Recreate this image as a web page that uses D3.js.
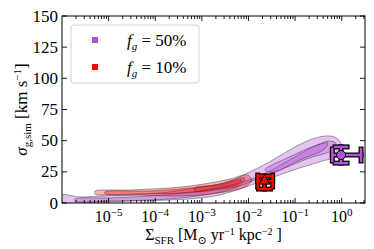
<!DOCTYPE html>
<html>
<head>
<meta charset="utf-8">
<script src="https://cdn.jsdelivr.net/npm/d3@7"></script>
<style>
  body { margin: 0; background: #fff; }
</style>
</head>
<body>
<div id="viz"></div>
<script>
'use strict';

// x tick exponents and y ticks
const xTickExps = [-5, -4, -3, -2, -1, 0];
const yTicks = [0, 25, 50, 75, 100, 125, 150];

// contour levels, points are [log10 SigmaSFR, sigma]
const purpleLevels = [
  [[-6.0, 6.4], [-5.61, 4.8], [-5.19, 5.6], [-4.54, 6.4], [-3.9, 8.0], [-3.26, 11.2], [-2.83, 13.6],
   [-2.4, 17.6], [-1.97, 24.9], [-1.55, 32.9], [-1.12, 42.5], [-0.69, 50.5], [-0.37, 53.7],
   [-0.15, 52.9], [-0.03, 48.9], [0.0, 42.5], [-0.09, 37.7], [-0.48, 32.9], [-0.9, 28.1],
   [-1.33, 22.5], [-1.76, 16.8], [-2.19, 11.2], [-2.62, 6.4], [-3.04, 4.0], [-3.69, 2.4],
   [-4.54, 1.6], [-5.19, 0.8], [-6.0, 0.8]],
  [[-5.72, 3.2], [-4.97, 4.0], [-4.12, 5.6], [-3.26, 8.8], [-2.4, 14.4], [-1.76, 21.7],
   [-1.12, 34.5], [-0.58, 45.7], [-0.26, 49.7], [-0.13, 48.1], [-0.2, 42.5], [-0.69, 36.1],
   [-1.23, 28.1], [-1.87, 18.4], [-2.51, 9.6], [-3.26, 4.8], [-4.12, 2.4], [-4.97, 1.6], [-5.72, 1.6]],
  [[-1.65, 26.5], [-1.12, 36.9], [-0.58, 45.7], [-0.3, 48.1], [-0.37, 43.3], [-0.9, 34.5], [-1.44, 24.9]]
];

const redLevels = [
  [[-5.29, 9.6], [-4.97, 10.4], [-4.54, 10.4], [-4.12, 11.2], [-3.69, 12.0], [-3.26, 13.6],
   [-2.83, 16.0], [-2.4, 19.2], [-2.02, 22.5], [-1.93, 18.4], [-2.08, 12.8], [-2.51, 8.8],
   [-3.04, 6.4], [-3.69, 5.6], [-4.33, 6.4], [-4.97, 6.4], [-5.29, 7.2]],
  [[-5.08, 8.8], [-4.12, 9.6], [-3.26, 12.0], [-2.62, 15.2], [-2.08, 20.0], [-2.19, 14.4],
   [-2.72, 10.4], [-3.37, 8.0], [-4.12, 7.6], [-5.08, 7.6]],
  [[-3.15, 12.0], [-2.62, 14.4], [-2.15, 18.4], [-2.23, 15.2], [-2.72, 11.2], [-3.15, 9.6]]
];

// observed points: value, x error range, y error range
const purplePoint = {x: 0.97, y: 38.5, xlo: 0.63, xhi: 2.6, ylo: 32, yhi: 45};
const redPoint = {x: 0.022, y: 17.6, xlo: 0.0158, xhi: 0.033, ylo: 11.2, yhi: 21.7};

const legendItems = ['50%', '10%'];

const purple = '#b452d6';
const red = '#ff0000';
const serif = "'Liberation Serif', 'DejaVu Serif', serif";

const W = 374, H = 249;
const margin = {top: 16, right: 9, bottom: 46, left: 62};

const svg = d3.select('#viz').append('svg')
  .attr('width', W).attr('height', H)
  .attr('font-family', serif)
  .style('font-family', serif);

const x = d3.scaleLog()
  .domain([1e-6, Math.pow(10, 0.5)])
  .range([margin.left, W - margin.right]);

const y = d3.scaleLinear()
  .domain([0, 150])
  .range([H - margin.bottom, margin.top]);

const defs = svg.append('defs');
defs.append('clipPath').attr('id', 'clip')
  .append('rect')
  .attr('x', x.range()[0]).attr('y', y.range()[1])
  .attr('width', x.range()[1] - x.range()[0])
  .attr('height', y.range()[0] - y.range()[1]);

const contourLine = d3.line()
  .x(p => x(Math.pow(10, p[0])))
  .y(p => y(p[1]))
  .curve(d3.curveCatmullRomClosed.alpha(0.5));

const plot = svg.append('g').attr('clip-path', 'url(#clip)');

function drawLevels(levels, color, alpha) {
  levels.forEach(poly => {
    plot.append('path')
      .datum(poly)
      .attr('d', contourLine)
      .attr('fill', color)
      .attr('fill-opacity', alpha)
      .attr('stroke', '#333')
      .attr('stroke-opacity', 0.45)
      .attr('stroke-width', 1);
  });
}

drawLevels(purpleLevels, purple, 0.35);
drawLevels(redLevels, red, 0.3);

// error bars with black outline
function errorBar(pt, color, marker) {
  const g = svg.append('g');
  const cap = 6;
  const cx = x(pt.x), cy = y(pt.y);
  const segs = [
    [x(pt.xlo), cy, x(pt.xhi), cy],
    [cx, y(pt.ylo), cx, y(pt.yhi)],
    [x(pt.xlo), cy - cap, x(pt.xlo), cy + cap],
    [x(pt.xhi), cy - cap, x(pt.xhi), cy + cap],
    [cx - cap, y(pt.ylo), cx + cap, y(pt.ylo)],
    [cx - cap, y(pt.yhi), cx + cap, y(pt.yhi)]
  ];
  [['#000', 5], [color, 2.5]].forEach(([c, w]) => {
    g.selectAll(null).data(segs).enter().append('line')
      .attr('x1', d => d[0]).attr('y1', d => d[1])
      .attr('x2', d => d[2]).attr('y2', d => d[3])
      .attr('stroke', c).attr('stroke-width', w)
      .attr('stroke-linecap', 'square');
  });
  if (marker === 'circle') {
    g.append('circle').attr('cx', cx).attr('cy', cy).attr('r', 4.5)
      .attr('fill', color).attr('stroke', '#000').attr('stroke-width', 1);
  } else {
    g.append('path')
      .attr('d', d3.symbol(d3.symbolTriangle, 50)())
      .attr('transform', `translate(${cx},${cy})`)
      .attr('fill', color).attr('stroke', '#000').attr('stroke-width', 1);
  }
}

errorBar(redPoint, red, 'triangle');
errorBar(purplePoint, purple, 'circle');

// frame
const x0 = x.range()[0], x1 = x.range()[1], y0 = y.range()[0], y1 = y.range()[1];
svg.append('rect')
  .attr('x', x0).attr('y', y1).attr('width', x1 - x0).attr('height', y0 - y1)
  .attr('fill', 'none').attr('stroke', '#000').attr('stroke-width', 1);

// x ticks (inward, top and bottom)
const minor = [];
for (let e = -6; e <= 0; e++) {
  for (let k = 2; k <= 9; k++) {
    const v = k * Math.pow(10, e);
    if (v < x.domain()[1]) minor.push(v);
  }
}
const ticks = svg.append('g').attr('stroke', '#000').attr('stroke-width', 0.9);
xTickExps.forEach(e => {
  const px = x(Math.pow(10, e));
  ticks.append('line').attr('x1', px).attr('x2', px).attr('y1', y0).attr('y2', y0 - 5);
  ticks.append('line').attr('x1', px).attr('x2', px).attr('y1', y1).attr('y2', y1 + 5);
});
minor.forEach(v => {
  const px = x(v);
  ticks.append('line').attr('x1', px).attr('x2', px).attr('y1', y0).attr('y2', y0 - 3);
  ticks.append('line').attr('x1', px).attr('x2', px).attr('y1', y1).attr('y2', y1 + 3);
});
yTicks.forEach(v => {
  const py = y(v);
  ticks.append('line').attr('x1', x0).attr('x2', x0 + 5).attr('y1', py).attr('y2', py);
  ticks.append('line').attr('x1', x1).attr('x2', x1 - 5).attr('y1', py).attr('y2', py);
});

// tick labels
yTicks.forEach(v => {
  svg.append('text')
    .attr('x', x0 - 4).attr('y', y(v) + 5.5)
    .attr('text-anchor', 'end')
    .attr('font-size', 17)
    .text(v);
});
xTickExps.forEach(e => {
  const t = svg.append('text')
    .attr('x', x(Math.pow(10, e))).attr('y', y0 + 19)
    .attr('text-anchor', 'middle')
    .attr('font-size', 16);
  t.append('tspan').text('10');
  t.append('tspan').attr('dy', -6).attr('font-size', 11).text(e === 0 ? '0' : '\u2212' + (-e));
});

// axis labels
const xl = svg.append('text')
  .attr('x', (x0 + x1) / 2).attr('y', 240)
  .attr('text-anchor', 'middle')
  .attr('font-size', 16);
xl.append('tspan').text('\u03A3');
xl.append('tspan').attr('dy', 4).attr('font-size', 11).text('SFR');
xl.append('tspan').attr('dy', -4).text(' [M');
xl.append('tspan').attr('dy', 4).attr('font-size', 11).text('\u2299');
xl.append('tspan').attr('dy', -4).text(' yr');
xl.append('tspan').attr('dy', -5).attr('font-size', 10).text('\u22121');
xl.append('tspan').attr('dy', 5).text(' kpc');
xl.append('tspan').attr('dy', -5).attr('font-size', 10).text('\u22122');
xl.append('tspan').attr('dy', 5).text(' ]');

const yl = svg.append('text')
  .attr('transform', `translate(27,${(y0 + y1) / 2}) rotate(-90)`)
  .attr('text-anchor', 'middle')
  .attr('font-size', 17);
yl.append('tspan').attr('font-style', 'italic').text('\u03C3');
yl.append('tspan').attr('dy', 4).attr('font-size', 11).text('g,sim');
yl.append('tspan').attr('dy', -4).text(' [km s');
yl.append('tspan').attr('dy', -6).attr('font-size', 11).text('\u22121');
yl.append('tspan').attr('dy', 6).text(']');

// legend
const lg = svg.append('g');
lg.append('rect')
  .attr('x', 71).attr('y', 25).attr('width', 128).attr('height', 58).attr('rx', 3)
  .attr('fill', '#fff').attr('fill-opacity', 0.8)
  .attr('stroke', '#d0d0d0').attr('stroke-width', 1);
[purple, red].forEach((c, i) => {
  const cy = 40 + i * 27;
  lg.append('rect').attr('x', 92).attr('y', cy - 3).attr('width', 6).attr('height', 6).attr('fill', c);
  const t = lg.append('text').attr('x', 127).attr('y', cy + 6).attr('font-size', 17);
  t.append('tspan').attr('font-style', 'italic').text('f');
  t.append('tspan').attr('dy', 4).attr('font-size', 11).attr('font-style', 'italic').text('g');
  t.append('tspan').attr('dy', -4).text(' = ' + legendItems[i]);
});
</script>
</body>
</html>
